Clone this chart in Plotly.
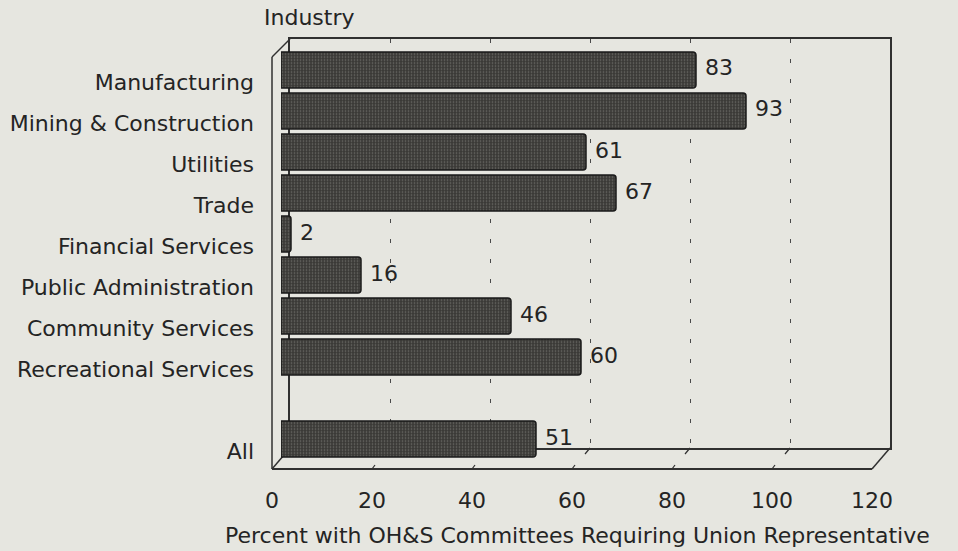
import plotly.graph_objects as go

# ---- data -------------------------------------------------------------
industries = [
    "Manufacturing",
    "Mining & Construction",
    "Utilities",
    "Trade",
    "Financial Services",
    "Public Administration",
    "Community Services",
    "Recreational Services",
]
industry_pct = [83, 93, 61, 67, 2, 16, 46, 60]
overall_label = "All"
overall_pct = 51
x_ticks = [0, 20, 40, 60, 80, 100, 120]
x_title = "Percent with OH&S Committees Requiring Union Representative"
y_title = "Industry"

# ---- canvas helpers ---------------------------------------------------
W, H = 958, 551


def px(x):
    return x / W


def py(y):
    return 1 - y / H


FONT = "DejaVu Sans"
FS = 22
INK = "#242424"
BG = "#e6e6e0"
LINE = "#303030"

SPACER = " "
cats = industries + [SPACER, overall_label]
bar_y = industries + [overall_label]
bar_x = industry_pct + [overall_pct]

# box geometry (front floor edge, back wall, depth offset)
FRONT_L, FRONT_R, FRONT_Y = 272, 872, 469
BACK_L, BACK_R, BACK_T, BACK_B = 290, 890, 39, 448
BAR_L, BAR_R = 281, 881
SLOT_TOP, SLOT_BOT = 49.5, 459.5

fig = go.Figure()

# back wall subplot (drawn first so it sits behind the bars)
fig.add_trace(go.Scatter(x=[x_ticks[0], x_ticks[-1]], y=[0, 1], mode="none",
                         hoverinfo="skip", showlegend=False,
                         xaxis="x", yaxis="y"))

# bars
fig.add_trace(go.Bar(
    x=bar_x, y=bar_y, orientation="h",
    xaxis="x2", yaxis="y2",
    marker=dict(
        color="#3a3936",
        line=dict(color="#1a1a1a", width=1.5),
        cornerradius=3,
        pattern=dict(shape=".", fgcolor="#6e6d68", bgcolor="#3a3936",
                     size=3, solidity=0.25, fillmode="replace"),
    ),
    hoverinfo="skip", showlegend=False,
))

# front floor axis
fig.add_trace(go.Scatter(x=[x_ticks[0], x_ticks[-1]], y=[industries[0]] * 2,
                         mode="none", hoverinfo="skip", showlegend=False,
                         xaxis="x3", yaxis="y2"))

# value labels next to each bar
annotations = []
for cat, val in zip(bar_y, bar_x):
    annotations.append(dict(
        x=val, y=cat, xref="x2", yref="y2", text=str(val),
        showarrow=False, xanchor="left", yanchor="middle",
        xshift=7, yshift=2, font=dict(family=FONT, size=FS, color=INK)))

annotations.append(dict(
    x=px(262), y=py(18), xref="paper", yref="paper", text=y_title,
    showarrow=False, xanchor="left", yanchor="middle",
    font=dict(family=FONT, size=FS, color=INK)))
annotations.append(dict(
    x=px(577), y=py(535), xref="paper", yref="paper", text=x_title,
    showarrow=False, xanchor="center", yanchor="middle",
    font=dict(family=FONT, size=FS, color=INK)))

# side wall and floor edges
line_style = dict(color=LINE, width=1.5)
shapes = [
    dict(type="line", xref="paper", yref="paper", layer="below",
         x0=px(FRONT_L), y0=py(FRONT_Y), x1=px(FRONT_L), y1=py(57), line=line_style),
    dict(type="line", xref="paper", yref="paper", layer="below",
         x0=px(FRONT_L), y0=py(57), x1=px(BACK_L), y1=py(BACK_T), line=line_style),
    dict(type="line", xref="paper", yref="paper", layer="below",
         x0=px(FRONT_L), y0=py(FRONT_Y), x1=px(BACK_L), y1=py(BACK_B), line=line_style),
    dict(type="line", xref="paper", yref="paper", layer="below",
         x0=px(FRONT_R), y0=py(FRONT_Y), x1=px(BACK_R), y1=py(BACK_B), line=line_style),
]
# small floor tick marks at each gridline
for t in x_ticks[1:-1]:
    xb = BACK_L + (BACK_R - BACK_L) * t / x_ticks[-1]
    xf = FRONT_L + (FRONT_R - FRONT_L) * t / x_ticks[-1]
    shapes.append(dict(type="line", xref="paper", yref="paper", layer="below",
                       x0=px(xb), y0=py(BACK_B), x1=px(xb - 5), y1=py(BACK_B + 6),
                       line=dict(color=LINE, width=1.2)))
    shapes.append(dict(type="line", xref="paper", yref="paper", layer="below",
                       x0=px(xf), y0=py(FRONT_Y), x1=px(xf + 3), y1=py(FRONT_Y - 4),
                       line=dict(color=LINE, width=1.2)))

fig.update_layout(
    width=W, height=H,
    autosize=False,
    margin=dict(l=0, r=0, t=0, b=0, pad=0, autoexpand=False),
    paper_bgcolor=BG,
    plot_bgcolor="rgba(0,0,0,0)",
    bargap=0.12,
    font=dict(family=FONT, size=FS, color=INK),
    annotations=annotations,
    shapes=shapes,
    xaxis=dict(
        domain=[px(BACK_L), px(BACK_R)], range=[x_ticks[0], x_ticks[-1]],
        tickvals=x_ticks, showgrid=True, gridcolor="#4a4a4a", gridwidth=1,
        griddash="4px,16px", showline=True, mirror=True, linecolor=LINE,
        linewidth=1.5, showticklabels=False, ticks="", zeroline=False,
        anchor="y", automargin=False, fixedrange=True),
    yaxis=dict(
        domain=[py(BACK_B), py(BACK_T)], range=[0, 1], showgrid=False,
        showline=True, mirror=True, linecolor=LINE, linewidth=1.5,
        showticklabels=False, ticks="", zeroline=False, anchor="x",
        automargin=False, fixedrange=True),
    xaxis2=dict(
        domain=[px(BAR_L), px(BAR_R)], range=[x_ticks[0], x_ticks[-1]],
        visible=False, anchor="y2", automargin=False, fixedrange=True),
    yaxis2=dict(
        domain=[py(SLOT_BOT), py(SLOT_TOP)], type="category",
        categoryorder="array", categoryarray=cats,
        range=[len(cats) - 0.5, -0.5],
        tickvals=cats, ticktext=cats,
        showgrid=False, showline=False, zeroline=False, ticks="",
        ticklabelstandoff=26, ticklabelshift=-12,
        tickfont=dict(family=FONT, size=FS, color=INK),
        anchor="x2", automargin=False, fixedrange=True),
    xaxis3=dict(
        domain=[px(FRONT_L), px(FRONT_R)], range=[x_ticks[0], x_ticks[-1]],
        tickvals=x_ticks, showgrid=False, zeroline=False,
        showline=True, linecolor=LINE, linewidth=1.5, ticks="",
        ticklabelstandoff=12,
        tickfont=dict(family=FONT, size=FS, color=INK),
        anchor="free", position=py(FRONT_Y), automargin=False, fixedrange=True),
)

fig.write_html("out.html")
